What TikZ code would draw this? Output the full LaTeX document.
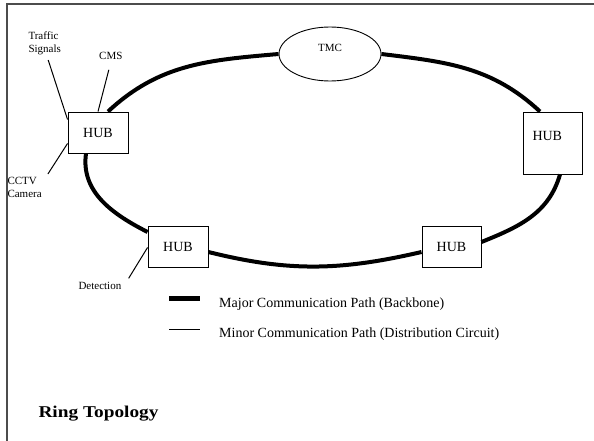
\documentclass[tikz,border=0pt]{standalone}
\usepackage{fontspec}
\setmainfont{Liberation Serif}
\newfontfamily\titlefont[FakeStretch=1.17]{Liberation Serif}
\usepackage{tikz}
\usetikzlibrary{shapes.geometric}

\tikzset{
  hub/.style={draw, line width=0.9pt, fill=white, inner sep=0pt,
    minimum width=60pt, minimum height=41pt, font=\fontsize{14}{16}\selectfont},
  tag/.style={inner sep=0pt, font=\fontsize{11}{13}\selectfont},
  legendtext/.style={inner sep=0pt, anchor=base west, font=\fontsize{14}{16}\selectfont},
  backbone/.style={line width=4pt},
  feeder/.style={line width=1pt},
  frameline/.style={line width=1.8pt, black!70}
}

\begin{document}
\begin{tikzpicture}[x=1pt, y=1pt]
\useasboundingbox (0,0) rectangle (594,-441);
\draw[frameline] (6.7,-441) -- (6.7,-4.3) -- (594,-4.3);

\node[hub] (hubw) at (98,-132.5){HUB};
\node[hub, minimum width=59pt, minimum height=62pt, text width=40pt, align=left,
  text height=10pt, text depth=16pt] (hube) at (552.5,-143){HUB};
\node[hub, minimum width=59pt] (hubse) at (451.5,-246.5){HUB};
\node[hub] (hubsw) at (178,-246.5){HUB};
\node[ellipse, draw, line width=0.9pt, fill=white, inner sep=0pt, minimum width=102pt,
  minimum height=54pt, text height=8pt, text depth=12.6pt,
  font=\fontsize{11}{13}\selectfont] (tmc) at (330,-54){TMC};

\draw[backbone] ([xshift=10pt]hubw.north) to[out=43, in=185] (tmc.west);
\draw[backbone] (tmc.east) to[out=-7, in=137] ([xshift=-12.5pt]hube.north);
\draw[backbone] ([xshift=7.5pt]hube.south) to[out=-106, in=22] ([yshift=4.5pt]hubse.east);
\draw[backbone] ([yshift=-5.5pt]hubse.west) to[out=193, in=-14] ([yshift=-5.5pt]hubsw.east);
\draw[backbone] ([yshift=14.5pt]hubsw.west) to[out=153, in=-98] ([xshift=-12pt]hubw.south);

\node[tag, anchor=north west, align=left] (signals) at (28.3,-31.5){Traffic\\Signals};
\node[tag, anchor=base west] (cms) at (99,-60){CMS};
\node[tag, anchor=north west, align=left] (cctv) at (7.3,-177){CCTV\\Camera};
\node[tag, anchor=base west] (detection) at (78.3,-289){Detection};

\draw[feeder] ([shift={(3.5,-5)}]signals.south) -- ([yshift=-8pt]hubw.north west);
\draw[feeder] ([shift={(-2,-9.5)}]cms.south) -- (hubw.north);
\draw[feeder] ([yshift=10pt]hubw.south west) -- ([shift={(6,3)}]cctv.north east);
\draw[feeder] ([yshift=-1pt]hubsw.west) -- ([shift={(7.2,3.2)}]detection.north east);

\node[legendtext] (major) at (219,-307.7){Major Communication Path (Backbone)};
\node[legendtext] (minor) at (219,-337.7){Minor Communication Path (Distribution Circuit)};
\draw[line width=5pt] ([shift={(-50,9.2)}]major.base west) -- ([shift={(-19,9.2)}]major.base west);
\draw[feeder] ([shift={(-50,8)}]minor.base west) -- ([shift={(-19,8)}]minor.base west);

\node[inner sep=0pt, anchor=base west, font=\titlefont\bfseries\fontsize{16.5}{20}\selectfont]
  (title) at (38.3,-417.7){Ring Topology};
\end{tikzpicture}
\end{document}
